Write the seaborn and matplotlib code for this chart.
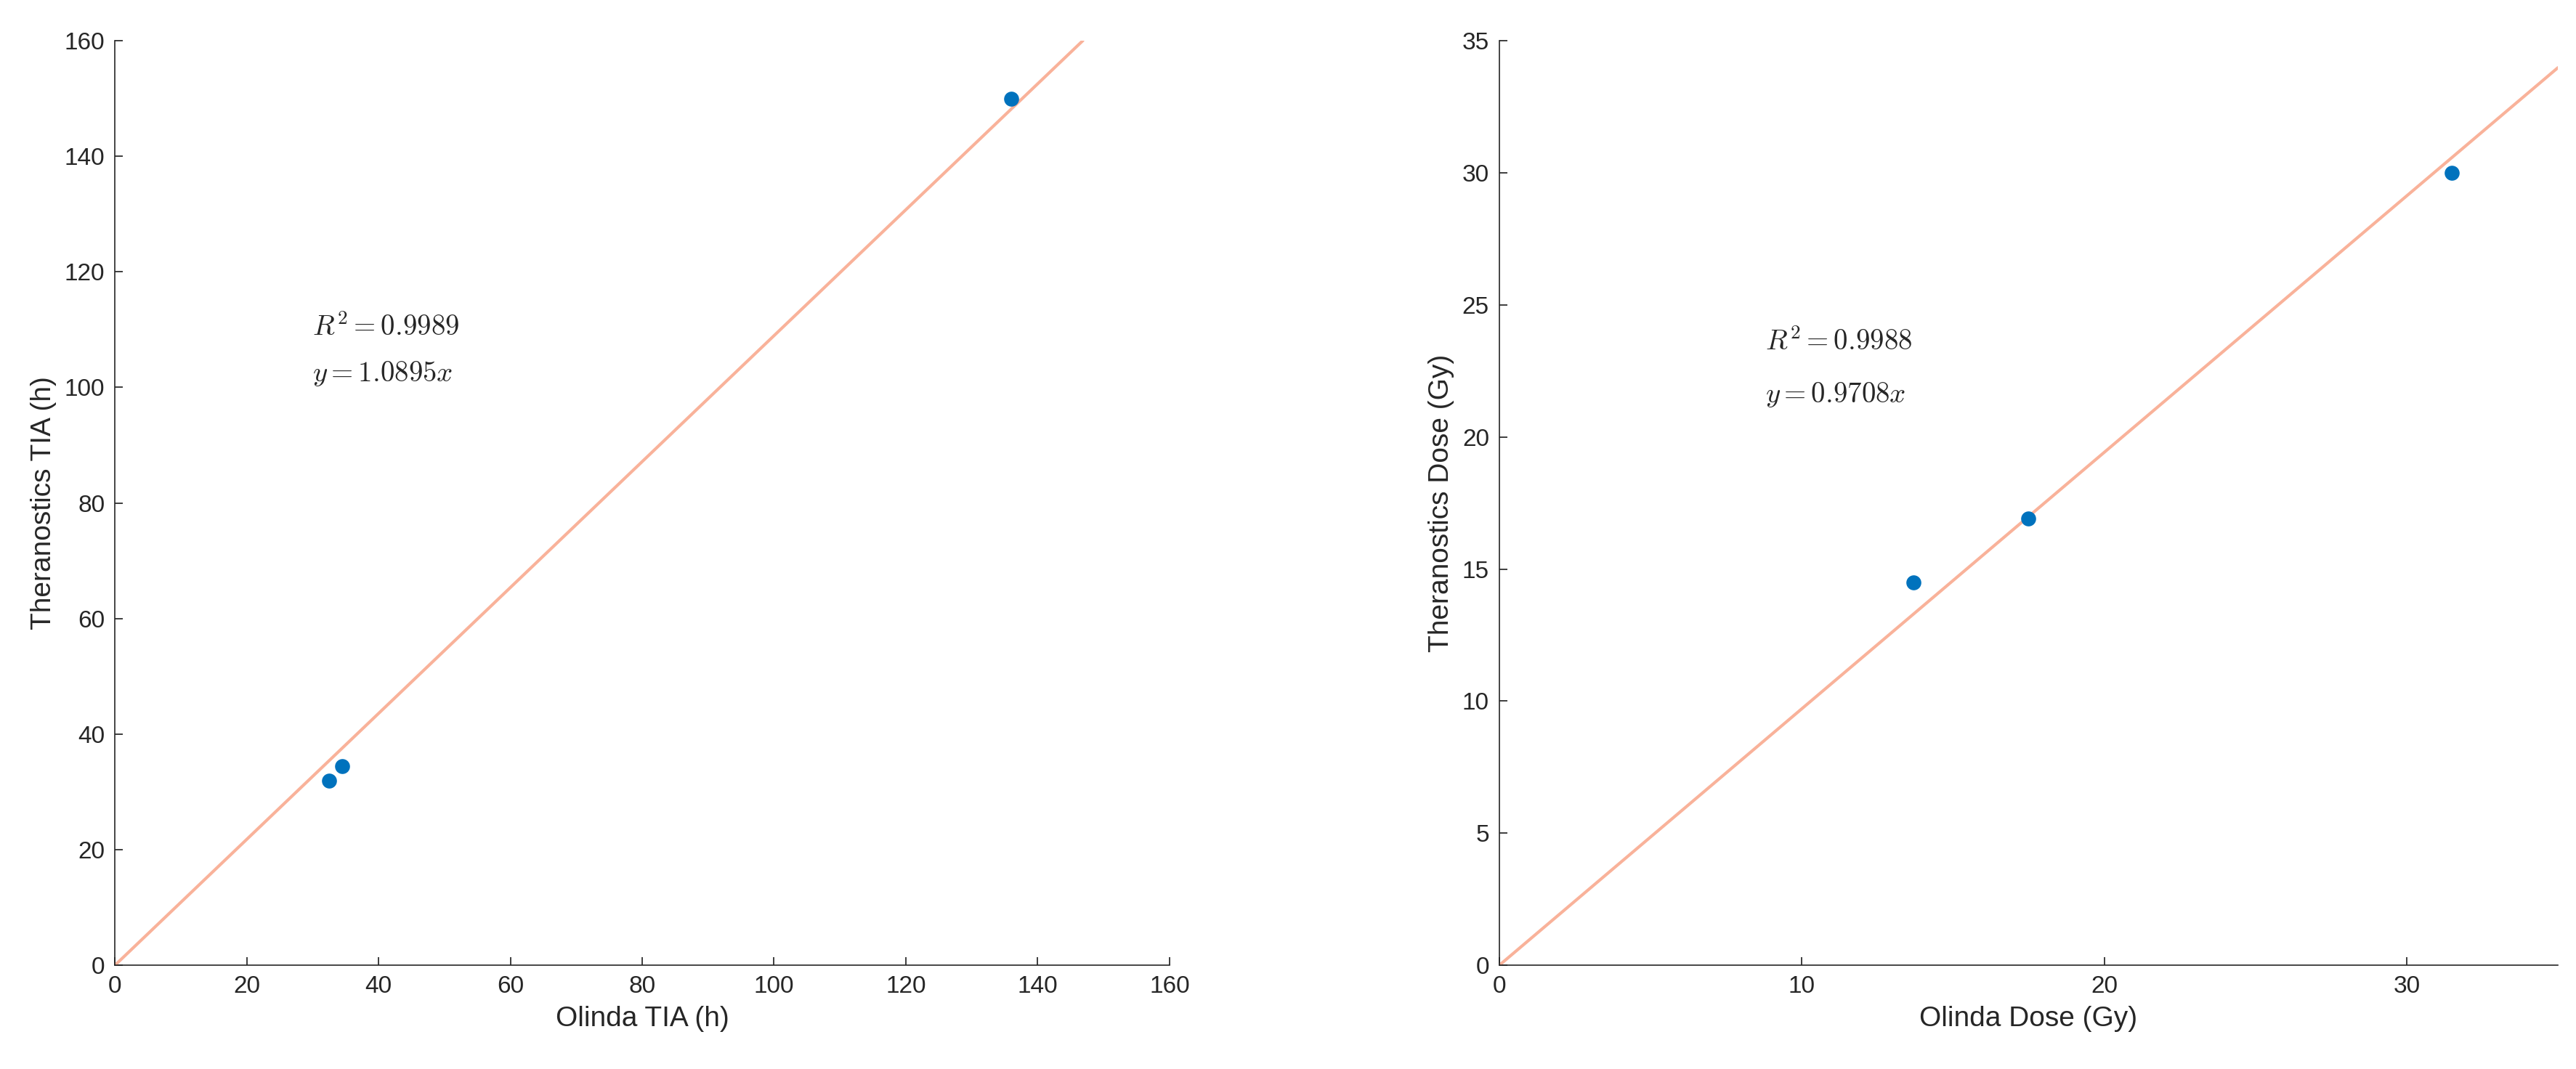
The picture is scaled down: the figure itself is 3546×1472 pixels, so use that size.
import matplotlib
matplotlib.use("Agg")
import matplotlib.pyplot as plt
import seaborn as sns
import numpy as np

sns.set_theme(style="ticks")
plt.rcParams['font.family'] = ['Liberation Sans', 'DejaVu Sans']
plt.rcParams['mathtext.fontset'] = 'cm'

tia_olinda = [32.5, 34.5, 136.0]
tia_thera = [32.0, 34.5, 150.0]
tia_slope = 1.0895
tia_r2 = 0.9989

dose_olinda = [13.7, 17.5, 31.5]
dose_thera = [14.5, 16.9, 30.0]
dose_slope = 0.9708
dose_r2 = 0.9988

dot = "#0072BD"
linec = "#F9B29A"

fig = plt.figure(figsize=(35.46, 14.72), dpi=100)
ax1 = fig.add_axes([0.0446, 0.097, 0.4094, 0.865])
ax2 = fig.add_axes([0.582, 0.097, 0.411, 0.865])

def panel(ax, xs, ys, slope, r2, xmax, ymax, xticks, yticks, xl, yl, tx, ty1, ty2):
    xl_end = min(xmax, ymax / slope)
    lx = np.array([0, xl_end])
    sns.lineplot(x=lx, y=slope * lx, ax=ax, color=linec, linewidth=3)
    sns.scatterplot(x=xs, y=ys, ax=ax, color=dot, s=220, edgecolor=dot, linewidth=0, zorder=3)
    ax.set_xlim(0, xmax)
    ax.set_ylim(0, ymax)
    ax.set_xticks(xticks)
    ax.set_yticks(yticks)
    ax.tick_params(direction="in", labelsize=24, length=8, pad=10, colors="#262626")
    ax.set_xlabel(xl, fontsize=28, color="#262626", labelpad=8)
    ax.set_ylabel(yl, fontsize=28, color="#262626", labelpad=8)
    for s in ["top", "right"]:
        ax.spines[s].set_visible(False)
    for s in ["left", "bottom"]:
        ax.spines[s].set_color("#262626")
        ax.spines[s].set_linewidth(1.2)
    ax.text(tx, ty1, rf"$R^2 = {r2}$", fontsize=28)
    ax.text(tx, ty2, rf"$y = {slope}x$", fontsize=28)

panel(ax1, tia_olinda, tia_thera, tia_slope, tia_r2, 160, 160,
      range(0, 161, 20), range(0, 161, 20), "Olinda TIA (h)", "Theranostics TIA (h)", 30, 109, 101)
panel(ax2, dose_olinda, dose_thera, dose_slope, dose_r2, 35, 35,
      [0, 10, 20, 30], range(0, 36, 5), "Olinda Dose (Gy)", "Theranostics Dose (Gy)", 8.8, 23.3, 21.3)

fig.savefig("out.png", dpi=100)
